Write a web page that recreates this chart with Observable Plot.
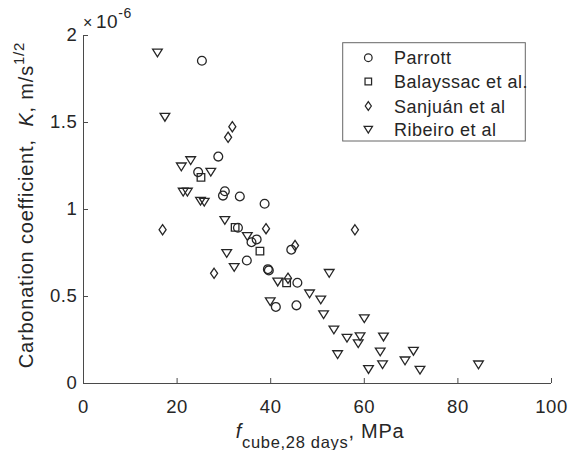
<!DOCTYPE html>
<html>
<head>
<meta charset="utf-8">
<script src="https://cdn.jsdelivr.net/npm/d3@7"></script>
<script src="https://cdn.jsdelivr.net/npm/@observablehq/plot@0.6"></script>
<style>
  html, body { margin: 0; padding: 0; background: #fff; }
  #chart { width: 568px; height: 450px; }
</style>
</head>
<body>
<div id="chart"></div>
<script>
// ---------- data (K in units of 1e-6 m/s^1/2, f in MPa) ----------
const seriesNames = ["Parrott", "Balayssac et al.", "Sanjuán et al", "Ribeiro et al"];

const parrottF = [25.3, 28.8, 24.5, 30.2, 29.8, 33.4, 38.7, 33.0, 35.9, 37.0, 44.4, 34.9, 39.4, 39.6, 45.7, 41.1, 45.5];
const parrottK = [1.855, 1.304, 1.215, 1.105, 1.08, 1.075, 1.033, 0.895, 0.812, 0.828, 0.769, 0.707, 0.657, 0.650, 0.579, 0.44, 0.449];

const balayssacF = [25.1, 32.4, 37.7, 43.4];
const balayssacK = [1.185, 0.897, 0.761, 0.579];

const sanjuanF = [31.8, 30.9, 16.9, 39.0, 45.2, 27.9, 43.7, 58.0];
const sanjuanK = [1.476, 1.415, 0.884, 0.89, 0.793, 0.633, 0.605, 0.883];

const ribeiroF = [15.8, 17.4, 22.9, 20.9, 27.2, 21.3, 22.2, 25.0, 25.8, 30.2, 35.0, 30.6, 32.2, 41.5, 39.9, 48.3, 52.5, 50.7, 51.3, 60.0, 53.5, 56.3, 59.1, 58.7, 64.1, 54.3, 63.4, 70.5, 68.7, 63.9, 60.9, 71.9, 84.4];
const ribeiroK = [1.90, 1.53, 1.281, 1.245, 1.214, 1.10, 1.10, 1.048, 1.042, 0.937, 0.845, 0.747, 0.667, 0.583, 0.47, 0.515, 0.633, 0.48, 0.395, 0.372, 0.308, 0.26, 0.269, 0.229, 0.267, 0.166, 0.181, 0.185, 0.13, 0.108, 0.08, 0.076, 0.107];

const xTicks = [0, 20, 40, 60, 80, 100];
const xTickLabels = ["0", "20", "40", "60", "80", "100"];
const yTicks = [0, 0.5, 1, 1.5, 2];
const yTickLabels = ["0", "0.5", "1", "1.5", "2"];

// ---------- styling ----------
const font = "'Liberation Sans', Arial, Helvetica, sans-serif";
const ink = "#262626";
const axisInk = "#4a4a4a";
const W = 568, H = 450, mL = 83, mR = 17, mT = 35, mB = 67;
const tickLen = 5; // px, inward like MATLAB
const xTickLenData = tickLen * 100 / (W - mL - mR);
const yTickLenData = tickLen * 2 / (H - mT - mB);

// MATLAB-like marker shapes (size = pi*r^2 as passed by Plot)
const rad = (size) => Math.sqrt(size / Math.PI);
const symCircle = { draw(c, size) { const r = rad(size); c.moveTo(r, 0); c.arc(0, 0, r, 0, 2 * Math.PI); c.closePath(); } };
const symSquare = { draw(c, size) { const h = rad(size) * 0.86; c.moveTo(-h, -h); c.lineTo(h, -h); c.lineTo(h, h); c.lineTo(-h, h); c.closePath(); } };
const symDiamond = { draw(c, size) { const r = rad(size); const w = r * 0.8, h = r * 1.16; c.moveTo(0, -h); c.lineTo(w, 0); c.lineTo(0, h); c.lineTo(-w, 0); c.closePath(); } };
const symTriDown = { draw(c, size) { const r = rad(size); const w = r * 1.1, h = r * 0.88; c.moveTo(-w, -h); c.lineTo(w, -h); c.lineTo(0, h); c.closePath(); } };
const symbols = [symCircle, symSquare, symDiamond, symTriDown];

const seriesF = [parrottF, balayssacF, sanjuanF, ribeiroF];
const seriesK = [parrottK, balayssacK, sanjuanK, ribeiroK];
const rows = seriesNames.map((name, s) => seriesF[s].map((f, i) => ({ series: name, f, K: seriesK[s][i] })));

const dotMarks = rows.map((data, s) =>
  Plot.dot(data, { x: "f", y: "K", r: 4.4, symbol: symbols[s], fill: "none", stroke: ink, strokeWidth: 1.3 })
);

const plot = Plot.plot({
  width: W,
  height: H,
  marginLeft: mL,
  marginRight: mR,
  marginTop: mT,
  marginBottom: mB,
  style: { fontFamily: font, fontSize: "18.5px", color: ink, background: "#fff", overflow: "visible", letterSpacing: "0.6px" },
  x: { domain: [0, 100] },
  y: { domain: [0, 2] },
  marks: [
    Plot.axisX({ ticks: xTicks, tickSize: 0, tickPadding: 16.5, tickFormat: d => xTickLabels[xTicks.indexOf(d)], label: null, fill: ink }),
    Plot.axisY({ ticks: yTicks, tickSize: 0, tickPadding: 6, tickFormat: d => yTickLabels[yTicks.indexOf(d)], label: null, fill: ink }),
    // inward tick marks
    Plot.ruleX(xTicks, { y1: 0, y2: yTickLenData, stroke: axisInk }),
    Plot.ruleY(yTicks, { x1: 0, x2: xTickLenData, stroke: axisInk }),
    Plot.ruleX([0], { stroke: axisInk }),
    Plot.ruleY([0], { stroke: axisInk }),
    ...dotMarks
  ]
});

document.getElementById("chart").appendChild(plot);

// ---------- annotations (labels, exponent, legend) ----------
const svg = d3.select(plot);

// exponent ×10^-6
const ex = svg.append("text").attr("x", 83).attr("y", 28.3).attr("fill", ink)
  .attr("text-anchor", "start").style("font-family", font);
ex.append("tspan").attr("font-size", "16px").text("×");
ex.append("tspan").attr("font-size", "19px").attr("dx", 3).text("10");
ex.append("tspan").attr("font-size", "14px").attr("dy", -10).text("-6");

// y label
const yl = svg.append("text")
  .attr("transform", "translate(33,205) rotate(-90)")
  .attr("text-anchor", "middle").attr("fill", ink)
  .style("font-family", font).style("font-size", "20px").style("letter-spacing", "0.8px");
yl.append("tspan").text("Carbonation coefficient,\u00a0\u00a0");
yl.append("tspan").style("font-style", "italic").text("K");
yl.append("tspan").text(", m/s");
yl.append("tspan").attr("dy", -9).style("font-size", "15px").text("1/2");

// x label
const xl = svg.append("text")
  .attr("x", 320).attr("y", 437.7)
  .attr("text-anchor", "middle").attr("fill", ink)
  .style("font-family", font).style("font-size", "20px").style("letter-spacing", "0.7px");
xl.append("tspan").style("font-style", "italic").text("f");
xl.append("tspan").attr("dy", 10).style("font-size", "16.5px").text("cube,28 days");
xl.append("tspan").attr("dy", -10).text(", MPa");

// legend
const lg = svg.append("g").style("font-family", font).style("font-size", "18px").style("letter-spacing", "0.5px");
lg.append("rect").attr("x", 342.7).attr("y", 42.7).attr("width", 182.6).attr("height", 98.3)
  .attr("fill", "#fff").attr("stroke", "#666").attr("stroke-width", 1);
const rowCenters = [57.7, 81.5, 106, 129.8];
seriesNames.forEach((name, i) => {
  lg.append("path")
    .attr("transform", `translate(368.3,${rowCenters[i]})`)
    .attr("d", d3.symbol(symbols[i], Math.PI * 3.8 * 3.8)())
    .attr("fill", "none").attr("stroke", ink).attr("stroke-width", 1.25);
  lg.append("text").attr("x", 394).attr("y", rowCenters[i] + 6.5).attr("fill", ink)
    .attr("text-anchor", "start").text(name);
});
</script>
</body>
</html>
